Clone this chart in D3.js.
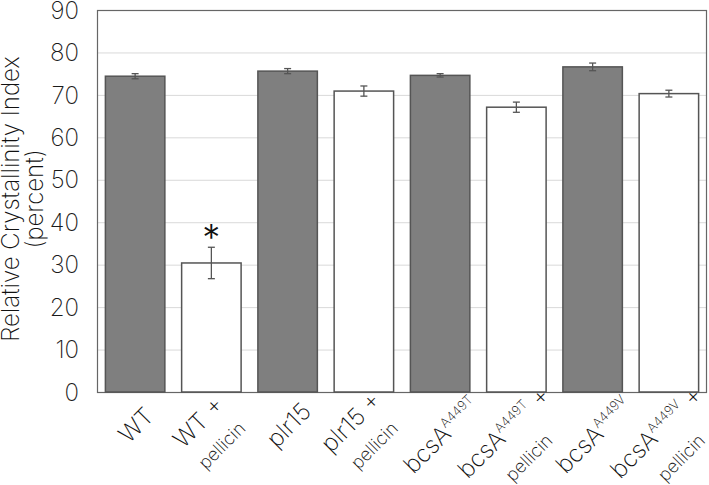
<!DOCTYPE html>
<meta charset="utf-8">
<head>
<style>
body { margin: 0; background: #fff; }
svg { display: block; font-family: Inter, Roboto, "Liberation Sans", sans-serif; font-weight: 200; }
.grid line { stroke: #d9d9d9; stroke-width: 1; }
.ytick { font-size: 24px; fill: #1a1a1a; }
.xlab text { fill: #111; }
</style>
<script src="https://d3js.org/d3.v7.min.js"></script>
</head>
<body>
<svg id="plot" width="709" height="485"></svg>
<script>

// data
var strains = ["WT", "WT", "plr15", "plr15", "bcsA", "bcsA", "bcsA", "bcsA"];
var supers = ["", "", "", "", "A449T", "A449T", "A449V", "A449V"];
var treated = [false, true, false, true, false, true, false, true];
var values = [74.4, 30.4, 75.6, 70.9, 74.6, 67.1, 76.6, 70.3];
var errors = [0.6, 3.7, 0.6, 1.2, 0.4, 1.2, 0.9, 0.8];
var yTicks = [0, 10, 20, 30, 40, 50, 60, 70, 80, 90];
var starred = [1];

var svg = d3.select("svg"),
    margin = {top: 10, right: 2, bottom: 93, left: 97},
    width = +svg.attr("width") - margin.left - margin.right,
    height = +svg.attr("height") - margin.top - margin.bottom;

var idx = d3.range(values.length);

var x = d3.scaleBand()
    .domain(idx)
    .range([margin.left, margin.left + width])
    .paddingInner(0.22)
    .paddingOuter(0.11);

var y = d3.scaleLinear()
    .domain([0, 90])
    .range([margin.top + height, margin.top]);

// gridlines
svg.append("g").attr("class", "grid")
  .selectAll("line").data(yTicks.slice(1, -1)).enter().append("line")
    .attr("x1", margin.left).attr("x2", margin.left + width)
    .attr("y1", function(d){ return y(d) + 0.5; })
    .attr("y2", function(d){ return y(d) + 0.5; });

// y tick labels
svg.append("g").selectAll("text").data(yTicks).enter().append("text")
    .attr("class", "ytick")
    .attr("x", 79)
    .attr("y", function(d){ return y(d); })
    .attr("dy", "0.36em")
    .attr("text-anchor", "end")
    .text(function(d){ return d; });

// frame
svg.append("rect")
    .attr("x", margin.left + 0.5).attr("y", y(90) + 0.5)
    .attr("width", width - 1).attr("height", height)
    .attr("fill", "none").attr("stroke", "#666").attr("stroke-width", 1.2);

// bars
svg.append("g").selectAll("rect").data(idx).enter().append("rect")
    .attr("x", function(i){ return x(i); })
    .attr("y", function(i){ return y(values[i]); })
    .attr("width", x.bandwidth())
    .attr("height", function(i){ return y(0) - y(values[i]); })
    .attr("fill", function(i){ return treated[i] ? "#ffffff" : "#7f7f7f"; })
    .attr("stroke", "#555")
    .attr("stroke-width", 1.5);

// error bars
var eb = svg.append("g").attr("stroke", "#555").attr("stroke-width", 1.3)
  .selectAll("g").data(idx).enter().append("g");
eb.append("line")
    .attr("x1", function(i){ return x(i) + x.bandwidth()/2; })
    .attr("x2", function(i){ return x(i) + x.bandwidth()/2; })
    .attr("y1", function(i){ return y(values[i] - errors[i]); })
    .attr("y2", function(i){ return y(values[i] + errors[i]); });
[-1, 1].forEach(function(s){
  eb.append("line")
    .attr("x1", function(i){ return x(i) + x.bandwidth()/2 - 3.5; })
    .attr("x2", function(i){ return x(i) + x.bandwidth()/2 + 3.5; })
    .attr("y1", function(i){ return y(values[i] + s*errors[i]); })
    .attr("y2", function(i){ return y(values[i] + s*errors[i]); });
});

// significance star
svg.append("g").selectAll("text").data(starred).enter().append("text")
    .attr("x", function(i){ return x(i) + x.bandwidth()/2; })
    .attr("y", function(i){ return y(values[i] + errors[i]) + 3; })
    .attr("text-anchor", "middle")
    .style("font-size", "36px")
    .style("font-weight", 300)
    .attr("fill", "#111")
    .text("*");

// x labels, rotated 45 degrees and centred by measuring
var lab = svg.append("g").attr("class", "xlab")
  .selectAll("g").data(idx).enter().append("g")
    .attr("transform", function(i){
      var cx = x(i) + x.bandwidth()/2 + (treated[i] ? -7 : 7);
      var cy = y(0) + 39 + (supers[i] ? 10 : 0) - (treated[i] ? 3 : 0);
      return "translate(" + cx + "," + cy + ") rotate(-45)";
    });

lab.each(function(i){
  var g = d3.select(this);
  var t1 = g.append("text").style("font-size", "24px");
  t1.append("tspan").text(strains[i]);
  if (supers[i]) {
    t1.append("tspan").attr("dy", -10).style("font-size", "13px").text(supers[i]);
  }
  if (treated[i]) {
    t1.append("tspan").attr("dy", supers[i] ? 10 : 0).text(" +");
  }
  t1.attr("x", -t1.node().getComputedTextLength() / 2);
  if (treated[i]) {
    var t2 = g.append("text")
      .attr("y", supers[i] ? 34 : 31)
      .style("font-size", "18px")
      .text("pellicin");
    t2.attr("x", -t2.node().getComputedTextLength() / 2);
  }
});

// y axis title
var yt = svg.append("text")
    .attr("transform", "translate(0,199) rotate(-90)")
    .attr("text-anchor", "middle")
    .style("font-size", "24px")
    .attr("fill", "#111");
yt.append("tspan").attr("x", 0).attr("y", 19).text("Relative Crystallinity Index");
yt.append("tspan").attr("x", 0).attr("y", 43).text("(percent)");

</script>
</body>
